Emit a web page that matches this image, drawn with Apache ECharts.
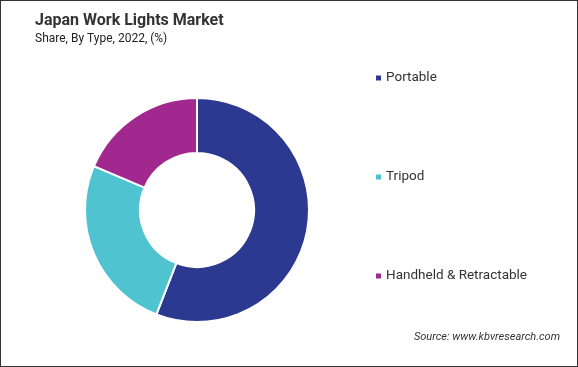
<!DOCTYPE html>
<html>
<head>
<meta charset="utf-8">
<script src="https://cdn.jsdelivr.net/npm/echarts@6/dist/echarts.min.js"></script>
<style>
html,body{margin:0;padding:0;background:#fff;}
#frame{position:absolute;left:0;top:0;width:576px;height:365px;border:1px solid #333;box-sizing:content-box;}
#chart{position:absolute;left:0;top:0;width:578px;height:367px;}
</style>
</head>
<body>
<div id="chart"></div>
<div id="frame"></div>
<script>
var categories = ["Portable", "Tripod", "Handheld & Retractable"];
var shares = [55.9, 25.5, 18.6];
var colors = ["#2b3990", "#4fc3d0", "#a0288f"];

var chart = echarts.init(document.getElementById('chart'), null, {renderer: 'canvas'});
var data = categories.map(function (c, i) {
  return {name: c, value: shares[i], itemStyle: {color: colors[i]}};
});
chart.setOption({
  animation: false,
  title: {
    text: 'Japan Work Lights Market',
    subtext: 'Share, By Type, 2022, (%)',
    left: 30,
    top: 8,
    itemGap: 4,
    textStyle: {fontFamily: 'Roboto', fontWeight: 'bold', fontSize: 16, color: '#333'},
    subtextStyle: {fontFamily: 'Roboto', fontSize: 12, color: '#222'}
  },
  legend: {
    orient: 'vertical',
    left: 369,
    top: 66,
    itemWidth: 7,
    itemHeight: 7,
    itemGap: 85,
    icon: 'rect',
    textStyle: {fontFamily: 'Roboto', fontSize: 13.5, color: '#333', padding: [0, 0, 0, -1]},
    data: categories
  },
  graphic: [{
    type: 'text',
    right: 18,
    top: 332,
    style: {text: 'Source: www.kbvresearch.com', font: 'italic 11px Roboto', fill: '#333'}
  }],
  series: [{
    type: 'pie',
    center: [197, 210],
    radius: [57, 112],
    startAngle: 90,
    clockwise: true,
    label: {show: false},
    labelLine: {show: false},
    itemStyle: {borderColor: '#fff', borderWidth: 2},
    emphasis: {disabled: true},
    data: data
  }]
});
</script>
</body>
</html>
